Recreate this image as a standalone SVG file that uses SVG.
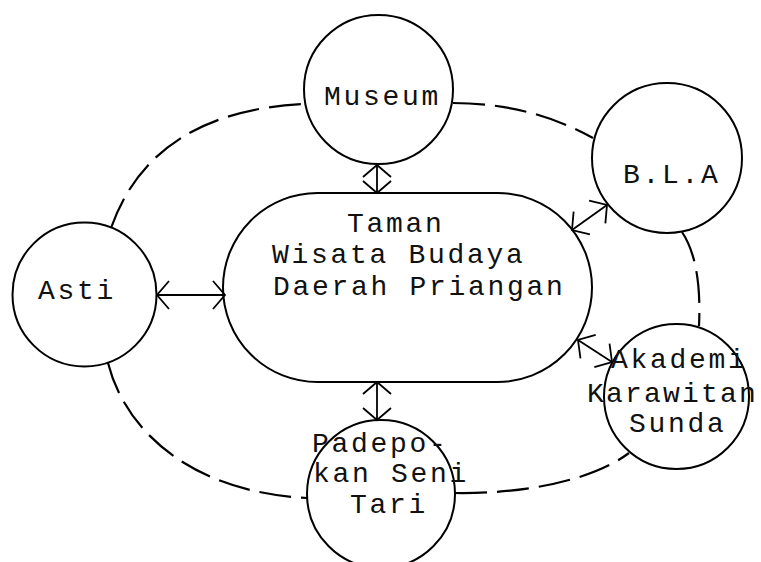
<svg xmlns="http://www.w3.org/2000/svg" width="761" height="562" viewBox="0 0 761 562">
<defs>
<style>
.node{fill:none;stroke:#000;stroke-width:2}
.lbl{font-family:"Liberation Mono","Courier New",monospace;font-size:28px;letter-spacing:2.7px;fill:#111}
.dash{fill:none;stroke:#000;stroke-width:2.2;stroke-dasharray:32 10}
.arr{fill:none;stroke:#000;stroke-width:1.8;marker-start:url(#hd);marker-end:url(#hd)}
</style>
<marker id="hd" markerUnits="userSpaceOnUse" viewBox="-20 -20 40 40" refX="0" refY="0" markerWidth="40" markerHeight="40" orient="auto-start-reverse">
<path d="M-12,-14 L0,0 L-12,14" fill="none" stroke="#000" stroke-width="1.8"/>
</marker>
</defs>
<rect width="761" height="562" fill="#fff"/>
<g id="connectors">
<path class="dash" d="M111,228 Q152,112 303,104"/>
<path class="dash" d="M453,103 Q530,103 593,138"/>
<path class="dash" d="M682,232 Q702,262 699,326"/>
<path class="dash" d="M455,493 C520,494 590,482 629,453"/>
<path class="dash" d="M108,363 C125,430 190,492 307,498"/>
<path class="arr" d="M377,165 L377,193"/>
<path class="arr" d="M157,295 L225,295"/>
<path class="arr" d="M607,205 L572,230"/>
<path class="arr" d="M578,340 L612,362"/>
<path class="arr" d="M377,382 L377,420"/>
</g>
<g id="museum">
<circle class="node" cx="378.5" cy="89.5" r="74.5"/>
<text class="lbl" x="324" y="105">Museum</text>
</g>
<g id="bla">
<circle class="node" cx="667" cy="158" r="75"/>
<text class="lbl" x="623" y="183">B.L.A</text>
</g>
<g id="taman">
<rect class="node" x="223" y="193" width="369" height="189" rx="94.5" ry="94.5"/>
<text class="lbl" x="347" y="232">Taman</text>
<text class="lbl" x="272" y="263">Wisata Budaya</text>
<text class="lbl" x="273" y="295">Daerah Priangan</text>
</g>
<g id="asti">
<circle class="node" cx="84.5" cy="294.5" r="72"/>
<text class="lbl" x="38" y="299">Asti</text>
</g>
<g id="akademi">
<circle class="node" cx="676.5" cy="396.5" r="72.5"/>
<text class="lbl" x="611" y="368">Akademi</text>
<text class="lbl" x="587" y="402" style="letter-spacing:2.2px">Karawitan</text>
<text class="lbl" x="629" y="432">Sunda</text>
</g>
<g id="padepokan">
<circle class="node" cx="381" cy="494" r="74"/>
<text class="lbl" x="312" y="452">Padepo-</text>
<text class="lbl" x="313" y="482">kan Seni</text>
<text class="lbl" x="350" y="513">Tari</text>
</g>
</svg>
